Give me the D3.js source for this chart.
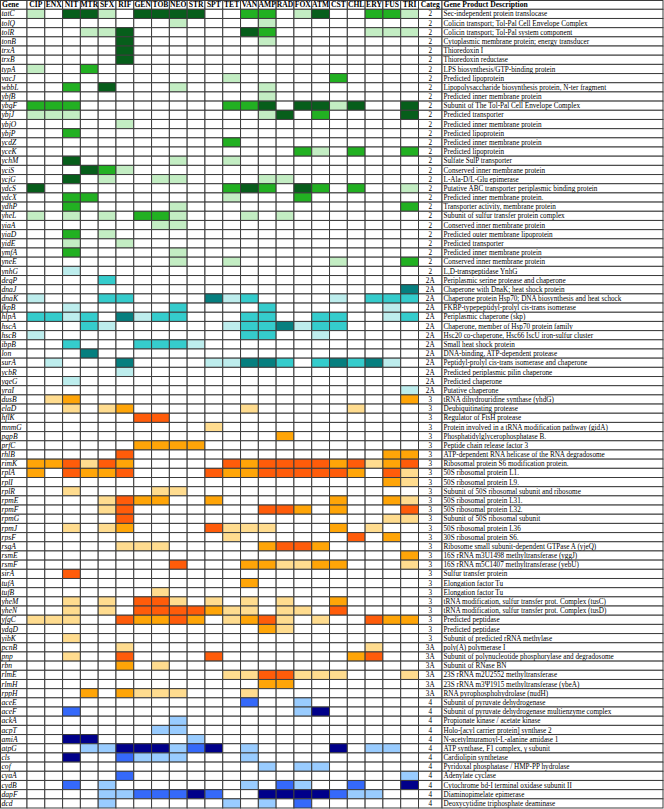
<!DOCTYPE html>
<html>
<head>
<meta charset="utf-8">
<script src="https://cdn.jsdelivr.net/npm/d3@7"></script>
<style>
  body { margin: 0; background: #fff; }
  svg text { font-family: "Liberation Serif", "Times New Roman", serif; }
</style>
</head>
<body>
<script>
// drug columns
const drugs = ['CIP','ENX','NIT','MTR','SFX','RIF','GEN','TOB','NEO','STR','SPT','TET','VAN','AMP','RAD','FOX','ATM','CST','CHL','ERY','FUS','TRI'];

const genes = ['tatC','tolQ','tolR','tonB','trxA','trxB','typA','vacJ','wbbL','ybfB','ybgF','ybjJ','ybjO','ybjP','ycdZ','yceK','ychM','yciS','ycjG','ydcS','ydcX','ydhP','yheL','yiaA','yiaD','yidE','ymfA','yneE','ynhG',
  'degP','dnaJ','dnaK','fkpB','hlpA','hscA','hscB','ibpB','lon','surA','ycbR','ygeG','yraI',
  'dusB','elaD','hflK','mnmG','pgpB','prfC','rhlB','rimK','rplA','rplI','rplR','rpmE','rpmF','rpmG','rpmJ','rpsF','rsgA','rsmE','rsmF','sirA','tufA','tufB','yheM','yheN','yfgC','ydgD','yibK',
  'pcnB','pnp','rbn','rlmE','rlmH','rppH',
  'aceE','aceF','ackA','acpT','amiA','atpG','cls','cof','cyaA','cydB','dapF','dcd'];

const categs = ['2','2','2','2','2','2','2','2','2','2','2','2','2','2','2','2','2','2','2','2','2','2','2','2','2','2','2','2','2',
  '2A','2A','2A','2A','2A','2A','2A','2A','2A','2A','2A','2A','2A',
  '3','3','3','3','3','3','3','3','3','3','3','3','3','3','3','3','3','3','3','3','3','3','3','3','3','3','3',
  '3A','3A','3A','3A','3A','3A',
  '4','4','4','4','4','4','4','4','4','4','4','4'];

const descriptions = ['Sec-independent protein translocase','Colicin transport; Tol-Pal Cell Envelope Complex','Colicin transport; Tol-Pal system component','Cytoplasmic membrane protein; energy transducer','Thioredoxin I','Thioredoxin reductase','LPS biosynthesis/GTP-binding protein','Predicted lipoprotein','Lipopolysaccharide biosynthesis protein, N-ter fragment','Predicted inner membrane protein','Subunit of The Tol-Pal Cell Envelope Complex','Predicted transporter','Predicted inner membrane protein','Predicted lipoprotein','Predicted inner membrane protein','Predicted lipoprotein','Sulfate SulP transporter','Conserved inner membrane protein','L-Ala-D/L-Glu epimerase','Putative ABC transporter periplasmic binding protein','Predicted inner membrane protein.','Transporter activity, membrane protein','Subunit of sulfur transfer protein complex','Conserved inner membrane protein','Predicted outer membrane lipoprotein','Predicted transporter','Predicted inner membrane protein','Conserved inner membrane protein','L,D-transpeptidase YnhG',
  'Periplasmic serine protease and chaperone','Chaperone with DnaK; heat shock protein','Chaperone protein Hsp70; DNA biosynthesis and heat schock','FKBP-typepeptidyl-prolyl cis-trans isomerase','Periplasmic chaperone (skp)','Chaperone, member of Hsp70 protein family','Hsc20 co-chaperone, Hsc66 IscU iron-sulfur cluster','Small heat shock protein','DNA-binding, ATP-dependent protease','Peptidyl-prolyl cis-trans isomerase and chaperone','Predicted periplasmic pilin chaperone','Predicted chaperone','Putative chaperone',
  'tRNA dihydrouridine synthase (yhdG)','Deubiquitinating protease','Regulator of FtsH protease','Protein involved in a tRNA modification pathway (gidA)','Phosphatidylglycerophosphatase B.','Peptide chain release factor 3','ATP-dependent RNA helicase of the RNA degradosome','Ribosomal protein S6 modification protein.','50S ribosomal protein L1.','50S ribosomal protein L9.','Subunit of 50S ribosomal subunit  and ribosome','50S ribosomal protein L31.','50S ribosomal protein L32.','Subunit of 50S ribosomal subunit','50S ribosomal protein L36','30S ribosomal protein S6.','Ribosome small subunit-dependent GTPase A (yjeQ)','16S rRNA m3U1498 methyltransferase (yggJ)','16S rRNA m5C1407 methyltransferase (yebU)','Sulfur transfer protein','Elongation factor Tu','Elongation factor Tu','tRNA modification, sulfur transfer prot. Complex (tusC)','tRNA modification, sulfur transfer prot. Complex (tusD)','Predicted peptidase','Predicted peptidase','Subunit of predicted rRNA methylase',
  'poly(A) polymerase I','Subunit of polynucleotide phosphorylase and degradosome','Subunit of RNase BN','23S rRNA m2U2552 methyltransferase','23S rRNA m3\u03A81915 methyltransferase (ybeA)','RNA pyrophosphohydrolase (nudH)',
  'Subunit of  pyruvate dehydrogenase','Subunit of pyruvate dehydrogenase multienzyme complex','Propionate kinase / acetate kinase','Holo-[acyl carrier protein] synthase 2','N-acetylmuramoyl-L-alanine amidase 1','ATP synthase, F1 complex, \u03B3 subunit','Cardiolipin synthetase','Pyridoxal phosphatase / HMP-PP hydrolase','Adenylate cyclase','Cytochrome bd-I terminal oxidase subunit II','Diaminopimelate epimerase','Deoxycytidine triphosphate deaminase'];

// level per drug column: 0 none, 1 light, 2 medium, 3 dark
const levels = ['1033103333002201300221','0000000010000100000000','0001130000003200000111','0000030000000100000000','0000030000000000000000','0000030000000000000000','1002000000000000000000','0000000000010000020000','0020300010000100000000','0000000000000100000000','2220000000022303313003','1110000000000130200003','0000010000000000000000','0020000000000000000000','0000000000020000000000','0000000000000002102002','0030000010010000000000','0003210000000000000000','0030100110000110000000','3000000000023203202001','0022000000010002000000','0020000010000000000002','1010102210001010000000','0000000110000000000000','0020100000000000000000','0010010000000000000000','0020000010000000000000','0000000010010000010002','0010000000000000000000',
  '0000200000000000000000','0000000000000000000003','1000220000312000010222','0010000020000200000010','2212031220002200220012','0002100000012231220000','1000000000002200100000','0020002221000000000000','0003000000000000000000','0100030000113320232310','0000010000000000000000','0010000000000000000000','0000000000000000000001',
  '0120000000000000000002','0010120000001000001000','0000003300000000000000','0000000000100000000000','0000000000000020000000','0000002222000000000000','0000030000000000000022','2231320000032333323123','2032230000322333332031','0000000000000000000021','0010000110000000000000','0000132200200000020021','0000130000000332020003','0000030000000000000011','0010120000311100020100','0000000000010000003020','0000011100000233200000','0000000000000000000002','0000000030002211220001','0030000000000000000000','0000000000002000000000','0000000100000000000000','0010103310101010020000','0010103333211011030000','1110032232012310100322','0000000000000210000000','0010000000000000000000',
  '0000010000000000000100','0010030000300000002300','0000020100000000000000','0000000000011331110001','0000000000000220000000','0002021110001000000000',
  '0000000000002001000000','0020000000000001300000','0000000010000000000000','0000000110000000000000','0033000001000000000000','0001133312301000030110','0030021110001000000000','0000000000000101100000','0000020000000000000001','0020100000001021002003','0000112223200333321100','0000100000010102000000'];

const palettes = {
  green:  ['#c3edc3', '#22b022', '#075e1b'],
  teal:   ['#bdeded', '#35cccc', '#067f7f'],
  orange: ['#ffdc8f', '#ffa508', '#ff5c0a'],
  blue:   ['#99ccff', '#3569fa', '#00008a']
};
const categPalette = { '2': 'green', '2A': 'teal', '3': 'orange', '3A': 'orange', '4': 'blue' };
const paletteOverride = { ynhG: 'teal' };

const width = 664, height = 809;
const svg = d3.select('body').append('svg')
  .attr('width', width)
  .attr('height', height);

const headerH = 9.3;
const x = d3.scaleBand().domain(drugs).range([27, 418.5]);
const y = d3.scaleBand().domain(genes).range([headerH, 808]);
const geneX = [0.5, 27], categX = [418.5, 442], descX = [442, 663];

const rows = genes.map((g, i) => ({
  gene: g, categ: categs[i], desc: descriptions[i],
  pal: palettes[paletteOverride[g] || categPalette[categs[i]]],
  vals: levels[i].split('').map(Number)
}));

const lineColor = '#3c3c3c';

// header
const head = svg.append('g');
const headCells = [{ x0: geneX[0], x1: geneX[1], t: 'Gene', anchor: 'start' }]
  .concat(drugs.map(d => ({ x0: x(d), x1: x(d) + x.bandwidth(), t: d, anchor: 'middle' })))
  .concat([{ x0: categX[0], x1: categX[1], t: 'Categ', anchor: 'middle' },
           { x0: descX[0], x1: descX[1], t: 'Gene Product Description', anchor: 'start' }]);
head.selectAll('rect').data(headCells).enter().append('rect')
  .attr('x', d => d.x0).attr('y', 0.5)
  .attr('width', d => d.x1 - d.x0).attr('height', headerH - 0.5)
  .attr('fill', '#fff').attr('stroke', lineColor).attr('stroke-width', 1);
head.selectAll('text').data(headCells).enter().append('text')
  .attr('x', d => d.anchor === 'middle' ? (d.x0 + d.x1) / 2 : d.x0 + 1.5)
  .attr('y', headerH - 2)
  .attr('text-anchor', d => d.anchor)
  .attr('font-weight', 'bold')
  .attr('font-size', 7.6)
  .text(d => d.t);

// body rows
const row = svg.selectAll('g.row').data(rows).enter().append('g')
  .attr('class', 'row')
  .attr('transform', d => `translate(0,${y(d.gene)})`);

row.append('rect')
  .attr('x', geneX[0]).attr('width', geneX[1] - geneX[0]).attr('height', y.bandwidth())
  .attr('fill', '#fff').attr('stroke', lineColor);
row.append('rect')
  .attr('x', categX[0]).attr('width', categX[1] - categX[0]).attr('height', y.bandwidth())
  .attr('fill', '#fff').attr('stroke', lineColor);
row.append('rect')
  .attr('x', descX[0]).attr('width', descX[1] - descX[0]).attr('height', y.bandwidth())
  .attr('fill', '#fff').attr('stroke', lineColor);

row.selectAll('rect.cell')
  .data(d => d.vals.map((v, j) => ({ v, drug: drugs[j], pal: d.pal })))
  .enter().append('rect')
  .attr('class', 'cell')
  .attr('x', d => x(d.drug))
  .attr('width', x.bandwidth())
  .attr('height', y.bandwidth())
  .attr('fill', d => d.v ? d.pal[d.v - 1] : '#fff')
  .attr('stroke', lineColor)
  .attr('stroke-width', 1);

row.append('text')
  .attr('x', 1.5).attr('y', y.bandwidth() - 2)
  .attr('font-style', 'italic').attr('font-size', 7.6)
  .text(d => d.gene);
row.append('text')
  .attr('x', (categX[0] + categX[1]) / 2).attr('y', y.bandwidth() - 2)
  .attr('text-anchor', 'middle').attr('font-size', 7.2)
  .text(d => d.categ);
row.append('text')
  .attr('x', descX[0] + 1.5).attr('y', y.bandwidth() - 2)
  .attr('font-size', 7.2)
  .text(d => d.desc);
</script>
</body>
</html>
